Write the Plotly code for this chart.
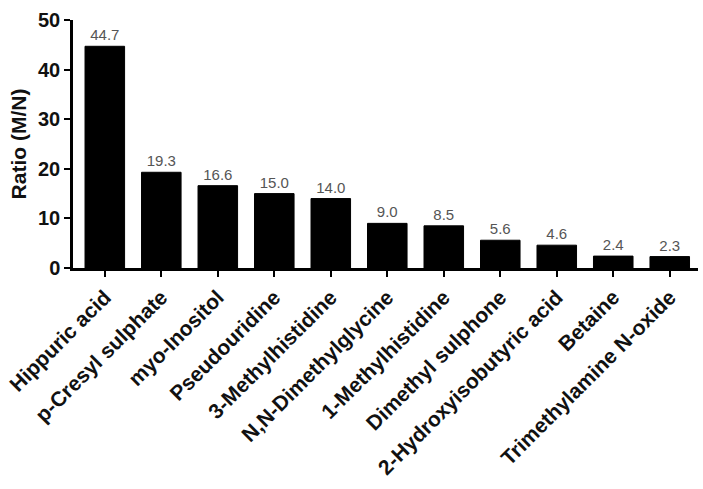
import plotly.graph_objects as go

categories = ["Hippuric acid", "p-Cresyl sulphate", "myo-Inositol", "Pseudouridine",
              "3-Methylhistidine", "N,N-Dimethylglycine", "1-Methylhistidine",
              "Dimethyl sulphone", "2-Hydroxyisobutyric acid", "Betaine",
              "Trimethylamine N-oxide"]
ratios = [44.7, 19.3, 16.6, 15.0, 14.0, 9.0, 8.5, 5.6, 4.6, 2.4, 2.3]
y_ticks = [0, 10, 20, 30, 40, 50]

FONT = "Arial, Liberation Sans, Helvetica, sans-serif"

fig = go.Figure(go.Bar(
    x=categories, y=ratios,
    text=[f"{v:.1f}" for v in ratios],
    textposition="outside",
    textfont=dict(family=FONT, size=15, color="#555555"),
    cliponaxis=False,
    marker=dict(color="black", line=dict(color="black", width=1)),
    width=0.7,
))

fig.update_layout(
    width=703, height=489,
    margin=dict(l=70, r=5, t=20, b=221),
    plot_bgcolor="white", paper_bgcolor="white",
    showlegend=False,
    xaxis=dict(
        range=[-0.563, 10.5],
        showline=True, linecolor="black", linewidth=2.5,
        ticks="outside", ticklen=6, tickwidth=2, tickcolor="black",
        tickangle=-45,
        tickfont=dict(family=FONT, size=21, color="#111111", weight="bold"),
        showgrid=False, zeroline=False,
    ),
    yaxis=dict(
        range=[0, 50],
        tickvals=y_ticks,
        showline=True, linecolor="black", linewidth=2.5,
        ticks="outside", ticklen=6, tickwidth=2, tickcolor="black",
        tickfont=dict(family=FONT, size=20, color="#111111", weight="bold"),
        showgrid=False, zeroline=False,
        title=dict(text="Ratio (M/N)", standoff=6,
                   font=dict(family=FONT, size=21, color="#111111", weight="bold")),
    ),
)

fig.write_html("out.html")
